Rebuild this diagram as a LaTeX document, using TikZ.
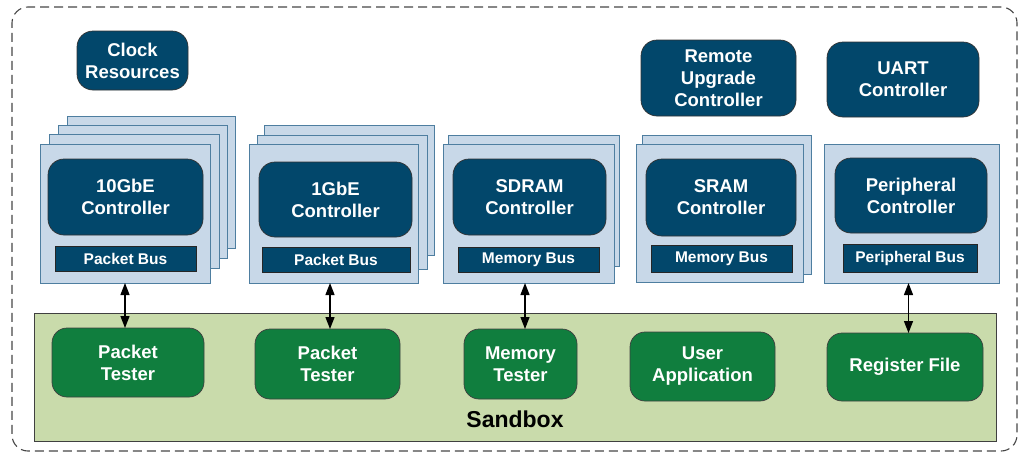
\documentclass[tikz,border=0pt]{standalone}
\usepackage{fontspec}
\setmainfont{Liberation Sans}
\usetikzlibrary{arrows.meta}

\definecolor{ctrlblue}{RGB}{2,71,107}
\definecolor{panelfill}{RGB}{200,216,232}
\definecolor{panelline}{RGB}{78,126,160}
\definecolor{testgreen}{RGB}{16,126,62}
\definecolor{sandfill}{RGB}{201,219,171}
\definecolor{frameline}{RGB}{70,70,70}

\begin{document}
\begin{tikzpicture}[x=1pt,y=-1pt,
  % span=x1,y1,x2,y2 : node covering the box with those corners
  span/.style args={#1,#2,#3,#4}{at={({(#1+#3)/2},{(#2+#4)/2})}, anchor=center,
        minimum width={(#3-#1)*1pt}, minimum height={(#4-#2)*1pt}, inner sep=0pt, outer sep=0pt},
  frame/.style={draw=frameline, line width=1.1pt, dash pattern=on 9pt off 5pt, rounded corners=16pt},
  panel/.style={draw=panelline, line width=0.9pt, fill=panelfill},
  ctrl/.style={draw=black!80, line width=0.7pt, fill=ctrlblue, rounded corners=16pt, text=white,
               font=\bfseries\fontsize{18.5}{22}\selectfont, align=center},
  bus/.style={draw=black!85, line width=0.7pt, fill=ctrlblue, text=white,
              font=\bfseries\fontsize{15.5}{18}\selectfont},
  sandbox/.style={draw=black!75, line width=0.8pt, fill=sandfill},
  tester/.style={draw=black!75, line width=0.7pt, fill=testgreen, rounded corners=15pt, text=white,
                 font=\bfseries\fontsize{18.5}{22}\selectfont, align=center},
  biarrow/.style={{Triangle[length=12pt,width=9pt]}-{Triangle[length=12pt,width=9pt]}, line width=1.3pt}
]
\useasboundingbox (0,0) rectangle (1024,453);

% outer dashed boundary
\node[frame, span={12,7,1017,451}] (outer) {};

% stand-alone controllers on top
\node[ctrl, span={77,31,188,90}] (clock) {Clock\\Resources};
\node[ctrl, span={641,40,796,116}] (remote) {Remote\\Upgrade\\Controller};
\node[ctrl, span={827,42,979,117}] (uart) {UART\\Controller};

% 10GbE stack (four instances)
\node[panel, span={67,116,235,248}] (tenG3) {};
\node[panel, span={58,125,227,258}] (tenG2) {};
\node[panel, span={49,134.5,219,268}] (tenG1) {};
\node[panel, span={40,144,210,283}] (tenG) {};
\node[ctrl, span={48,159,203,235}] (tenGctl) {10GbE\\Controller};
\node[bus, span={55,246,196,271}] (tenGbus) {Packet Bus};

% 1GbE stack (three instances)
\node[panel, span={264,125,434,255}] (oneG2) {};
\node[panel, span={257,135,427,269}] (oneG1) {};
\node[panel, span={249,144,418,283}] (oneG) {};
\node[ctrl, span={259,162,412,237}] (oneGctl) {1GbE\\Controller};
\node[bus, span={262,247,410,272}] (oneGbus) {Packet Bus};

% SDRAM stack (two instances)
\node[panel, span={448,135,619,266}] (sdram1) {};
\node[panel, span={443,144,614,283}] (sdram) {};
\node[ctrl, span={453,159,606,235}] (sdramctl) {SDRAM\\Controller};
\node[bus, span={458,247,599,272}] (sdrambus) {Memory Bus};

% SRAM stack (two instances)
\node[panel, span={642,135,811,274}] (sram1) {};
\node[panel, span={636,144,803,282}] (sram) {};
\node[ctrl, span={646,159,796,236}] (sramctl) {SRAM\\Controller};
\node[bus, span={651,245,792,272}] (srambus) {Memory Bus};

% peripheral controller
\node[panel, span={824,144,999,283}] (periph) {};
\node[ctrl, span={835,158,987,233}] (periphctl) {Peripheral\\Controller};
\node[bus, span={843,244,977,272}] (periphbus) {Peripheral Bus};

% sandbox with user logic
\node[sandbox, span={34,313,996,441}] (sand) {};
\node[font=\bfseries\fontsize{23}{26}\selectfont] (sandlabel) at (515,419) {Sandbox};
\node[tester, span={52,328,204,397}] (pt1) {Packet\\Tester};
\node[tester, span={255,329,400,399}] (pt2) {Packet\\Tester};
\node[tester, span={464,329,577,399}] (mt) {Memory\\Tester};
\node[tester, span={630,332,775,401}] (app) {User\\Application};
\node[tester, span={827,333,983,401}] (regs) {Register File};

% bus links
\draw[biarrow] (tenG.south) -- (tenG.south |- pt1.north);
\draw[biarrow] ([xshift=-3.5pt]oneG.south) -- ([xshift=-3.5pt]oneG.south |- pt2.north);
\draw[biarrow] ([xshift=-3.5pt]sdram.south) -- ([xshift=-3.5pt]sdram.south |- mt.north);
\draw[biarrow] ([xshift=-3pt]periph.south) -- ([xshift=-3pt]periph.south |- regs.north);
\end{tikzpicture}
\end{document}
